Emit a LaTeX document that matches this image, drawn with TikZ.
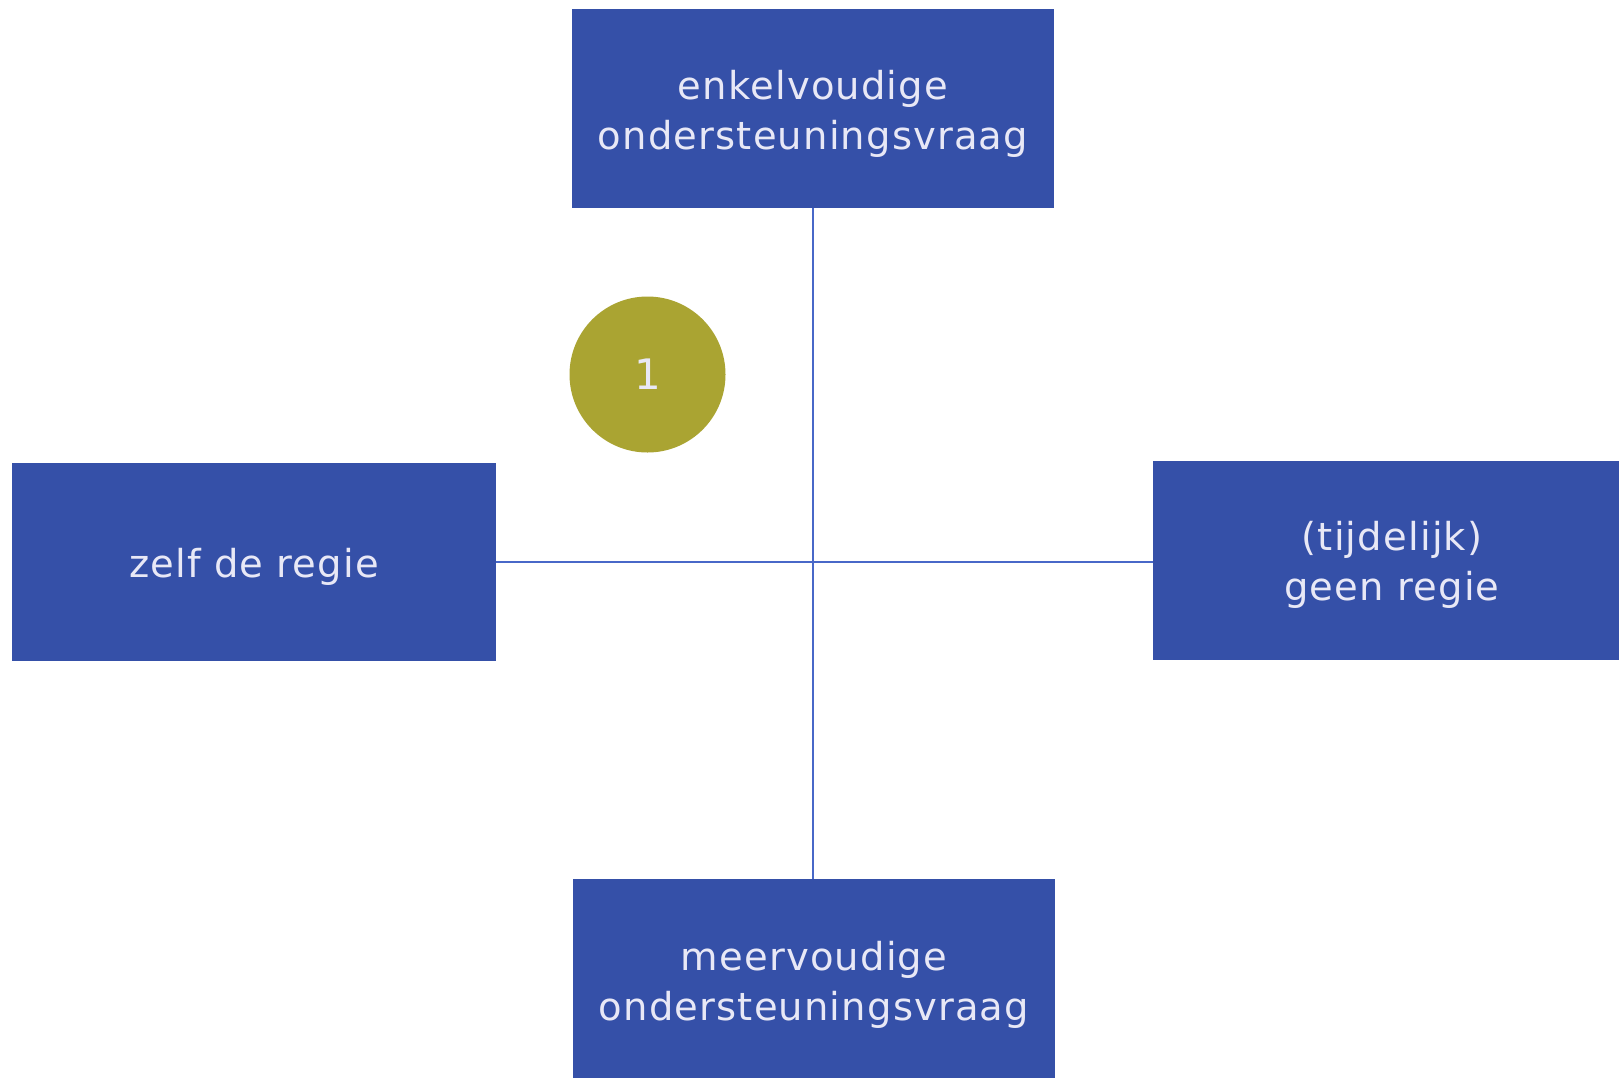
\documentclass[tikz,border=0pt]{standalone}
\usepackage{fontspec}
\setmainfont{DejaVu Sans}[LetterSpace=3]
\newfontfamily\numfont{DejaVu Sans}
\definecolor{boxblue}{RGB}{53,80,168}
\definecolor{lineblue}{RGB}{72,104,200}
\definecolor{olive}{RGB}{170,164,50}
\definecolor{txt}{RGB}{232,232,246}
\tikzset{
  qbox/.style={rectangle, fill=boxblue, draw=none, inner sep=0pt},
  qtext/.style={inner sep=0pt, align=center, text=txt,
    font=\fontsize{38.5}{50}\selectfont},
  axis/.style={draw=lineblue, line width=1.8pt},
  badge/.style={circle, fill=olive, inner sep=0pt, minimum size=156pt,
    text=txt, font=\numfont\fontsize{42}{44}\selectfont}
}
\begin{document}
\begin{tikzpicture}[x=1pt,y=-1pt]
\useasboundingbox[fill=white] (0,0) rectangle (1619,1077);
\node[qbox, minimum width=482pt, minimum height=199pt] (top) at (813,108.5) {};
\node[qbox, minimum width=484pt, minimum height=198pt] (left) at (254,562) {};
\node[qbox, minimum width=474pt, minimum height=199pt] (right) at (1390,560.5) {};
\node[qbox, minimum width=482pt, minimum height=206pt] (bottom) at (814,982) {};
\node[qtext] (toptext) at ([yshift=-5pt]top.center) {enkelvoudige\\ondersteuningsvraag};
\node[qtext] (lefttext) at ([yshift=-5pt]left.center) {zelf de regie};
\node[qtext] (righttext) at ([xshift=2pt,yshift=-4pt]right.center) {(tijdelijk)\\geen regie};
\node[qtext] (bottomtext) at ([yshift=-3pt]bottom.center) {meervoudige\\ondersteuningsvraag};
\node[badge] (one) at (647.5,374.5) {1};
\draw[axis] (left.east) -- (left.east -| right.west);
\draw[axis] (top.south) -- (top.south |- bottom.north);
\end{tikzpicture}
\end{document}
